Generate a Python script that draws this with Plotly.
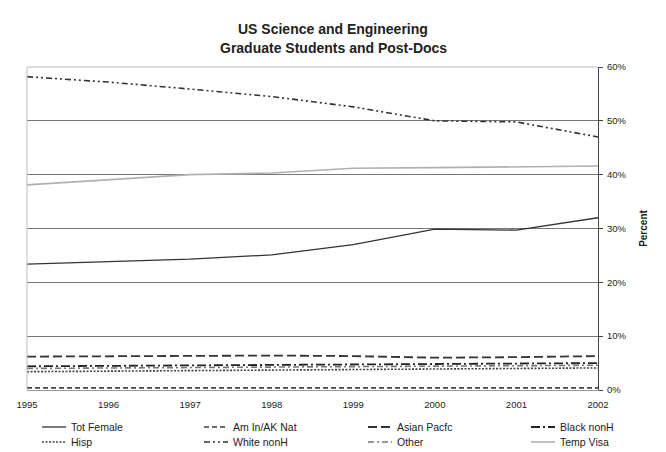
import plotly.graph_objects as go

years = [1995, 1996, 1997, 1998, 1999, 2000, 2001, 2002]

tot_female = [23.4, 23.8, 24.3, 25.1, 27.0, 29.9, 29.7, 32.0]
am_in_ak_nat = [0.4, 0.4, 0.4, 0.4, 0.4, 0.4, 0.4, 0.4]
asian_pacfc = [6.2, 6.3, 6.3, 6.4, 6.3, 6.0, 6.1, 6.3]
black_nonh = [4.4, 4.5, 4.6, 4.7, 4.8, 4.8, 4.9, 5.0]
hisp = [3.4, 3.5, 3.6, 3.7, 3.8, 3.9, 4.0, 4.1]
white_nonh = [58.2, 57.2, 55.9, 54.5, 52.6, 50.0, 49.8, 47.0]
other = [4.0, 4.1, 4.2, 4.3, 4.4, 4.4, 4.5, 4.6]
temp_visa = [38.1, 39.0, 40.0, 40.3, 41.2, 41.3, 41.4, 41.6]

y_ticks = [0, 10, 20, 30, 40, 50, 60]
y_tick_labels = ["0%", "10%", "20%", "30%", "40%", "50%", "60%"]

title_lines = ["US Science and Engineering", "Graduate Students and Post-Docs"]

# (name, values, color, dash, width)
series = [
    ("Tot Female", tot_female, "#333333", "solid", 1.3),
    ("Am In/AK Nat", am_in_ak_nat, "#444444", "5px,3px", 1.6),
    ("Asian Pacfc", asian_pacfc, "#333333", "9px,4px", 1.8),
    ("Black nonH", black_nonh, "#222222", "9px,3px,2px,3px", 1.8),
    ("Hisp", hisp, "#444444", "2px,1.5px", 1.6),
    ("White nonH", white_nonh, "#333333", "6px,3px,2px,3px,2px,3px", 1.6),
    ("Other", other, "#777777", "6px,3px,2px,3px", 1.6),
    ("Temp Visa", temp_visa, "#b0b0b0", "solid", 1.6),
]

W, H = 666, 452
ML, MR, MT, MB = 27, 68, 67, 62
PW, PH = W - ML - MR, H - MT - MB

def px_x(px):
    return (px - ML) / PW

def px_y(py):
    return (H - MB - py) / PH

fig = go.Figure()
for name, vals, color, dash, width in series:
    fig.add_trace(go.Scatter(
        x=years, y=vals, name=name, mode="lines",
        line=dict(color=color, dash=dash, width=width),
        showlegend=False,
    ))

# two-line bold heading
for text, cy in zip(title_lines, [29, 48]):
    fig.add_annotation(xref="paper", yref="paper", x=px_x(W / 2), y=px_y(cy),
                       xanchor="center", yanchor="middle", showarrow=False,
                       text="<b>" + text + "</b>",
                       font=dict(size=14, color="#222222"))

# key below the chart: four columns, two rows
col_x = [42, 204, 368, 531]
row_y = [427, 442]
for i, (name, vals, color, dash, width) in enumerate(series):
    cx = col_x[i % 4]
    ry = row_y[i // 4]
    fig.add_shape(type="line", xref="paper", yref="paper",
                  x0=px_x(cx), x1=px_x(cx + 24), y0=px_y(ry), y1=px_y(ry),
                  line=dict(color=color, dash=dash, width=width))
    fig.add_annotation(xref="paper", yref="paper", x=px_x(cx + 27), y=px_y(ry),
                       xanchor="left", yanchor="middle", showarrow=False,
                       text=name, font=dict(size=10.5, color="#222222"))

fig.update_layout(
    width=W, height=H,
    margin=dict(l=ML, r=MR, t=MT, b=MB),
    paper_bgcolor="white", plot_bgcolor="white",
    font=dict(family="Liberation Sans, Arial, sans-serif", size=9, color="#222222"),
    xaxis=dict(
        range=[1995, 2002], tickmode="array", tickvals=years,
        ticktext=[str(y) for y in years],
        showgrid=False, zeroline=False, showline=True, linecolor="#999999",
        ticks="", tickfont=dict(size=9.5), ticklabelstandoff=6,
    ),
    yaxis=dict(
        range=[0, 60], side="right", tickmode="array",
        tickvals=y_ticks, ticktext=y_tick_labels,
        showgrid=True, gridcolor="#777777", gridwidth=1,
        zeroline=False, showline=True, linecolor="#444444",
        ticks="outside", ticklen=4, tickcolor="#444444",
        tickfont=dict(size=9.5), ticklabelstandoff=2,
        title=dict(text="<b>Percent</b>", font=dict(size=10), standoff=14),
    ),
    showlegend=False,
)

# light frame on the left and top of the plot area
fig.add_shape(type="line", xref="paper", yref="paper", x0=0, x1=0, y0=0, y1=1,
              line=dict(color="#bbbbbb", width=1))
fig.add_shape(type="line", xref="paper", yref="paper", x0=0, x1=1, y0=1, y1=1,
              line=dict(color="#bbbbbb", width=1))

fig.write_html("out.html")
